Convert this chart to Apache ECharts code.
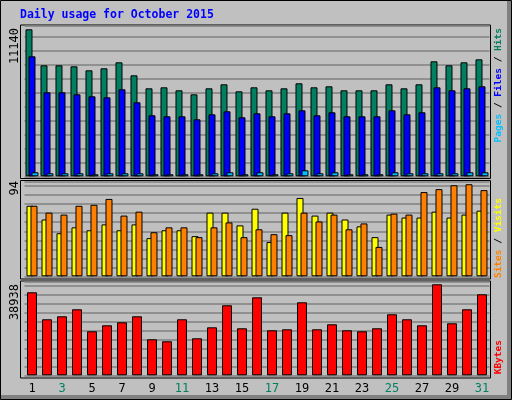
<!DOCTYPE html>
<html>
<head>
<meta charset="utf-8">
<script src="https://cdn.jsdelivr.net/npm/echarts@6/dist/echarts.min.js"></script>
<style>html,body{margin:0;padding:0;background:#c0c0c0;}#main{width:512px;height:400px;}</style>
</head>
<body>
<div id="main"></div>
<script>
let chart = echarts.init(document.getElementById("main"));

// data
const days = ["1","2","3","4","5","6","7","8","9","10","11","12","13","14","15","16",
    "17","18","19","20","21","22","23","24","25","26","27","28","29","30","31"];
const weekends = ["3","4","10","11","17","18","24","25","31"];
const hits = [11140, 8412, 8412, 8336, 8033, 8184, 8639, 7654, 6669, 6744, 6517, 6214, 6669, 6972, 6441, 6744,
    6517, 6669, 7048, 6744, 6820, 6517, 6517, 6517, 6972, 6669, 6972, 8715, 8412, 8639, 8867];
const files = [9094, 6366, 6366, 6214, 6062, 5987, 6593, 5608, 4623, 4547, 4547, 4319, 4698, 4926, 4471, 4774,
    4547, 4774, 5001, 4623, 4850, 4547, 4547, 4547, 5001, 4698, 4850, 6744, 6517, 6669, 6820];
const pages = [303, 227, 227, 227, 152, 227, 227, 227, 152, 152, 152, 152, 227, 303, 152, 303,
    152, 227, 455, 227, 303, 152, 152, 152, 303, 227, 227, 227, 227, 303, 303];
const visits = [72, 58, 44, 50, 47, 53, 47, 53, 39, 47, 47, 41, 65, 65, 52, 69,
    35, 65, 80, 62, 65, 58, 51, 40, 63, 60, 60, 66, 60, 63, 67];
const sites = [72, 65, 63, 72, 73, 79, 62, 66, 45, 50, 50, 40, 50, 55, 40, 48,
    43, 42, 65, 56, 63, 48, 54, 30, 64, 63, 86, 89, 93, 94, 88];
const kbytes = [35510, 23960, 25240, 28240, 18820, 21390, 22670, 25240, 15400, 14550, 23960, 15830, 20530, 29950, 20110, 33370,
    19250, 19680, 31230, 19680, 21820, 19250, 18820, 20110, 26100, 23960, 21390, 38938, 22250, 28240, 34650];

const mono = "DejaVu Sans Mono";
const gridLine = { show: true, lineStyle: { color: "#808080", width: 1.5 } };
const border = { borderColor: "#000", borderWidth: 1 };

function xAxis(idx, labels) {
    return {
        type: "category", data: days, gridIndex: idx,
        axisLine: { show: false }, axisTick: { show: false },
        axisLabel: labels ? {
            show: true, fontFamily: mono, fontSize: 12, margin: 8,
            color: function (v) { return weekends.indexOf(v) >= 0 ? "#008060" : "#000"; }
        } : { show: false }
    };
}
function yAxis(idx, max, interval) {
    return {
        type: "value", gridIndex: idx, min: 0, max: max, interval: interval,
        axisLabel: { show: false }, axisLine: { show: false }, axisTick: { show: false },
        splitLine: gridLine
    };
}
function bar(name, data, idx, color, width, gap) {
    return {
        name: name, type: "bar", data: data, xAxisIndex: idx, yAxisIndex: idx,
        barWidth: width, barGap: gap, animation: false,
        itemStyle: Object.assign({ color: color }, border)
    };
}

chart.setOption({
    backgroundColor: "#c0c0c0",
    grid: [
        { left: 24.5, right: 22.5, top: 26, height: 150.3 },
        { left: 24.5, right: 22.5, top: 181.5, height: 94.8 },
        { left: 24.5, right: 22.5, top: 281.5, height: 93.8 }
    ],
    xAxis: [xAxis(0, false), xAxis(1, false), xAxis(2, true)],
    yAxis: [yAxis(0, 11392, 1061), yAxis(1, 96.8, 9.2), yAxis(2, 40130, 3851)],
    series: [
        bar("Hits", hits, 0, "#008060", 7, "-57%"),
        bar("Files", files, 0, "#0000ff", 7, "-57%"),
        bar("Pages", pages, 0, "#00c0ff", 7, "-57%"),
        bar("Visits", visits, 1, "#ffff00", 7, "-43%"),
        bar("Sites", sites, 1, "#ff8000", 7, "-43%"),
        bar("KBytes", kbytes, 2, "#ff0000", 10, "0%")
    ],
    graphic: [
        { type: "rect", z: -10, shape: { x: 0.5, y: 0.5, width: 511, height: 399 }, style: { fill: "#c0c0c0", stroke: "#000" } },
        { type: "rect", z: -9, shape: { x: 507, y: 1, width: 4, height: 398 }, style: { fill: "#808080" } },
        { type: "rect", z: -9, shape: { x: 1, y: 395, width: 510, height: 4 }, style: { fill: "#808080" } },
        { type: "rect", z: -8, shape: { x: 20.5, y: 25, width: 470, height: 153.5 }, style: { fill: "#c0c0c0", stroke: "#000", lineWidth: 1 } },
        { type: "rect", z: -8, shape: { x: 20.5, y: 180.5, width: 470, height: 98.5 }, style: { fill: "#c0c0c0", stroke: "#000", lineWidth: 1 } },
        { type: "rect", z: -8, shape: { x: 20.5, y: 281, width: 470, height: 97 }, style: { fill: "#c0c0c0", stroke: "#000", lineWidth: 1 } },
        { type: "text", x: 20, y: 9, style: { text: "Daily usage for October 2015", fill: "#0000ff", font: "bold 11.5px " + mono } },
        { type: "text", x: 9, y: 28, rotation: Math.PI / 2, style: { text: "11140", fill: "#000", font: "12px " + mono, align: "right", verticalAlign: "top" } },
        { type: "text", x: 9, y: 181, rotation: Math.PI / 2, style: { text: "94", fill: "#000", font: "12px " + mono, align: "right", verticalAlign: "top" } },
        { type: "text", x: 9, y: 284, rotation: Math.PI / 2, style: { text: "38938", fill: "#000", font: "12px " + mono, align: "right", verticalAlign: "top" } },
        {
            type: "text", x: 494, y: 28, rotation: Math.PI / 2,
            style: {
                text: "{p|Pages}{s| / }{f|Files}{s| / }{h|Hits}", align: "right", verticalAlign: "top",
                rich: {
                    p: { fill: "#00c0ff", font: "bold 9.5px " + mono },
                    f: { fill: "#0000ff", font: "bold 9.5px " + mono },
                    h: { fill: "#008060", font: "bold 9.5px " + mono },
                    s: { fill: "#000", font: "bold 9.5px " + mono }
                }
            }
        },
        {
            type: "text", x: 494, y: 198, rotation: Math.PI / 2,
            style: {
                text: "{o|Sites}{s| / }{y|Visits}", align: "right", verticalAlign: "top",
                rich: {
                    o: { fill: "#ff8000", font: "bold 9.5px " + mono },
                    y: { fill: "#ffff00", font: "bold 9.5px " + mono },
                    s: { fill: "#000", font: "bold 9.5px " + mono }
                }
            }
        },
        { type: "text", x: 494, y: 340, rotation: Math.PI / 2, style: { text: "KBytes", fill: "#ff0000", font: "bold 9.5px " + mono, align: "right", verticalAlign: "top" } }
    ]
});
</script>
</body>
</html>
